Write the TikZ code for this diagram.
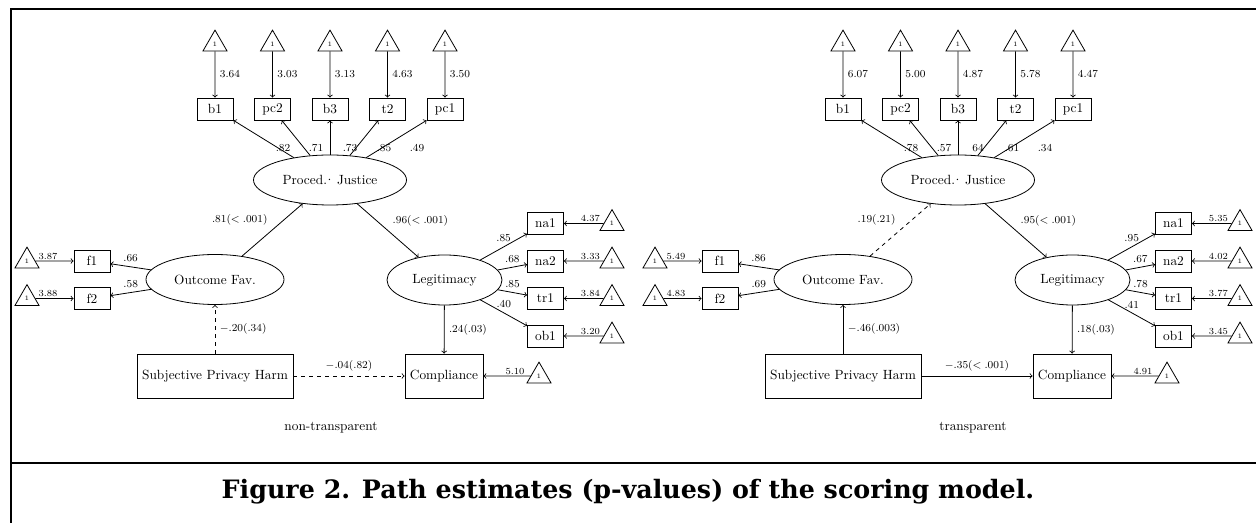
\documentclass[tikz,border=0pt]{standalone}
\usepackage{amsmath}
\usepackage{fontspec}
\newfontfamily\capfont{DejaVu Serif}
\usetikzlibrary{shapes.geometric}

\begin{document}
\begin{tikzpicture}[x=0.75pt, y=-0.75pt, >=to, semithick,
  obsbox/.style={draw, rectangle, minimum width=27pt, minimum height=16.5pt, inner sep=1pt},
  bigbox/.style={draw, rectangle, minimum height=33pt, inner sep=3pt},
  latent/.style={draw, ellipse, minimum height=37.5pt, inner sep=0pt},
  icpt/.style={draw, regular polygon, regular polygon sides=3, minimum size=20.8pt, inner sep=0pt, font=\tiny},
  coef/.style={font=\footnotesize},
  icptlab/.style={font=\scriptsize, pos=.33, above, inner sep=1pt}]
  \useasboundingbox (0,0) rectangle (1256,523);
  %--- frame
    \draw[line width=1.5pt] (1256,9.3) -- (11,9.3) -- (11,523);
    \draw[line width=1.5pt] (11,462.7) -- (1256,462.7);
  %--- non-transparent
  \begin{scope}[name prefix=nt-]
    \node[latent, minimum width=114.75pt] (pj) at (330,180) {Proced.\kern-2pt·\kern-1.5pt\ Justice};
    \foreach \n/\x/\lx/\ic/\ld in {b1/215/283/3.64/.82, pc2/272.5/316/3.03/.71, b3/330/350/3.13/.73, t2/387.5/384/4.63/.85, pc1/445/417/3.50/.49}{
      \node[obsbox] (\n) at (\x,109) {\n};
      \node[icpt] (i\n) at (\x,44) {1};
      \draw[->] (i\n) -- node[coef, right] {\ic} (\n);
      \draw[->] (pj) -- (\n);
      \node[coef] (l\n) at (\lx,148) {\ld};
    }
    \node[latent, minimum width=103.5pt] (of) at (215,279.5) {Outcome Fav.};
    \foreach \n/\y/\ic/\ld in {f1/261/3.87/.66, f2/298.5/3.88/.58}{
      \node[obsbox] (\n) at (92,\y) {\n};
      \node[icpt] (i\n) at (27,\y) {1};
      \draw[->] (i\n) -- node[icptlab] {\ic} (\n);
      \draw[->] (of) -- node[coef, above] {\ld} (\n);
    }
    \node[latent, minimum width=86.25pt] (leg) at (444.5,280) {Legitimacy};
    \foreach \n/\y/\ic/\ld in {na1/223.5/4.37/.85, na2/261/3.33/.68, tr1/298.5/3.84/.85, ob1/336/3.20/.40}{
      \node[obsbox] (\n) at (545.5,\y) {\n};
      \node[icpt] (i\n) at (612,\y) {1};
      \draw[->] (i\n) -- node[icptlab] {\ic} (\n);
      \draw[->] (leg) -- node[coef, above] {\ld} (\n);
    }
    \node[bigbox, minimum width=117pt] (sph) at (215,376) {Subjective Privacy Harm};
    \node[bigbox, minimum width=58.5pt] (comp) at (444,376) {Compliance};
    \node[icpt] (icomp) at (539,376) {1};
    \draw[->] (icomp) -- node[icptlab] {5.10} (comp);
    %--- paths
    \draw[->] (of) -- node[coef, above left] {$.81(<.001)$} (pj);
    \draw[->] (pj) -- node[coef, above right] {$.96(<.001)$} (leg);
    \draw[->] (leg) -- node[coef, right] {$.24(.03)$} (comp);
    \draw[->, dashed] (sph) -- node[coef, right] {$-.20(.34)$} (of);
    \draw[->, dashed] (sph) -- node[coef, above] {$-.04(.82)$} (comp);
  \end{scope}
  \node (capnt) at (331,428) {non-transparent};
  %--- transparent
  \begin{scope}[xshift=471pt, name prefix=tr-]
    \node[latent, minimum width=114.75pt] (pj) at (330,180) {Proced.\kern-2pt·\kern-1.5pt\ Justice};
    \foreach \n/\x/\lx/\ic/\ld in {b1/215/283/6.07/.78, pc2/272.5/316/5.00/.57, b3/330/350/4.87/64, t2/387.5/384/5.78/.61, pc1/445/417/4.47/.34}{
      \node[obsbox] (\n) at (\x,109) {\n};
      \node[icpt] (i\n) at (\x,44) {1};
      \draw[->] (i\n) -- node[coef, right] {\ic} (\n);
      \draw[->] (pj) -- (\n);
      \node[coef] (l\n) at (\lx,148) {\ld};
    }
    \node[latent, minimum width=103.5pt] (of) at (215,279.5) {Outcome Fav.};
    \foreach \n/\y/\ic/\ld in {f1/261/5.49/.86, f2/298.5/4.83/.69}{
      \node[obsbox] (\n) at (92,\y) {\n};
      \node[icpt] (i\n) at (27,\y) {1};
      \draw[->] (i\n) -- node[icptlab] {\ic} (\n);
      \draw[->] (of) -- node[coef, above] {\ld} (\n);
    }
    \node[latent, minimum width=86.25pt] (leg) at (444.5,280) {Legitimacy};
    \foreach \n/\y/\ic/\ld in {na1/223.5/5.35/.95, na2/261/4.02/.67, tr1/298.5/3.77/.78, ob1/336/3.45/.41}{
      \node[obsbox] (\n) at (545.5,\y) {\n};
      \node[icpt] (i\n) at (612,\y) {1};
      \draw[->] (i\n) -- node[icptlab] {\ic} (\n);
      \draw[->] (leg) -- node[coef, above] {\ld} (\n);
    }
    \node[bigbox, minimum width=117pt] (sph) at (215,376) {Subjective Privacy Harm};
    \node[bigbox, minimum width=58.5pt] (comp) at (444,376) {Compliance};
    \node[icpt] (icomp) at (539,376) {1};
    \draw[->] (icomp) -- node[icptlab] {4.91} (comp);
    %--- paths
    \draw[->, dashed] (of) -- node[coef, above left] {$.19(.21)$} (pj);
    \draw[->] (pj) -- node[coef, above right] {$.95(<.001)$} (leg);
    \draw[->] (leg) -- node[coef, right] {$.18(.03)$} (comp);
    \draw[->] (sph) -- node[coef, right] {$-.46(.003)$} (of);
    \draw[->] (sph) -- node[coef, above] {$-.35(<.001)$} (comp);
  \end{scope}
  \node (captr) at (973,428) {transparent};
  %--- caption
  \node[font=\capfont\bfseries\fontsize{19}{23}\selectfont] (figcap) at (628,492) {Figure 2. Path estimates (p-values) of the scoring model.};
\end{tikzpicture}
\end{document}
